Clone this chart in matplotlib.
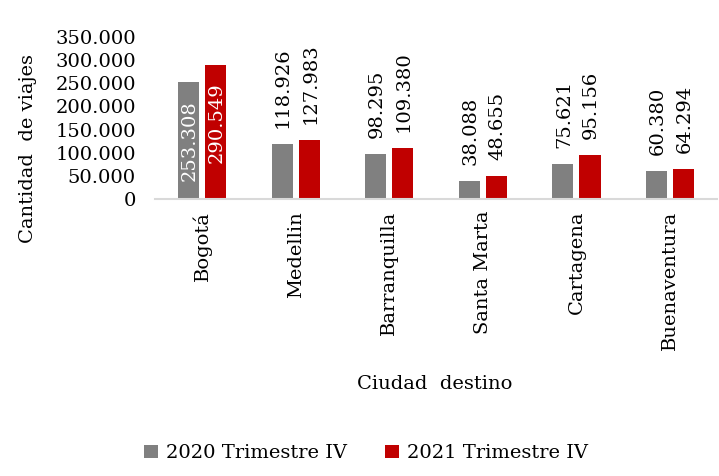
import numpy as np
import matplotlib
matplotlib.use("Agg")
import matplotlib.pyplot as plt
from matplotlib.ticker import FuncFormatter

ciudades = ["Bogotá", "Medellin", "Barranquilla", "Santa Marta", "Cartagena", "Buenaventura"]
viajes_2020 = [253308, 118926, 98295, 38088, 75621, 60380]
viajes_2021 = [290549, 127983, 109380, 48655, 95156, 64294]
serie_2020 = "2020 Trimestre IV"
serie_2021 = "2021 Trimestre IV"
dentro = ["Bogotá"]  # etiquetas dentro de la barra

GRIS = "#808080"
ROJO = "#c00000"

plt.rcParams["font.family"] = ["DejaVu Serif"]
FS = 14


def miles(v, pos=None):
    return f"{int(v):,}".replace(",", ".")


fig = plt.figure(figsize=(7.19, 4.76), dpi=100)
ax = fig.add_axes([0.216, 0.582, 0.781, 0.340])

x = np.arange(len(ciudades))
w = 0.225
b1 = ax.bar(x - 0.145, viajes_2020, w, color=GRIS, label=serie_2020)
b2 = ax.bar(x + 0.145, viajes_2021, w, color=ROJO, label=serie_2021)

for barras in (b1, b2):
    for i, r in enumerate(barras):
        h = r.get_height()
        xc = r.get_x() + r.get_width() / 2
        if ciudades[i] in dentro:
            ax.annotate(miles(h), (xc, h), xytext=(1, -18), textcoords="offset pixels",
                        rotation=90, ha="center", va="top", color="white", fontsize=FS)
        else:
            ax.annotate(miles(h), (xc, h), xytext=(1, 16), textcoords="offset pixels",
                        rotation=90, ha="center", va="bottom", color="black", fontsize=FS)

ax.set_ylim(0, 350000)
ax.set_yticks(np.arange(0, 350001, 50000))
ax.yaxis.set_major_formatter(FuncFormatter(miles))
ax.set_xlim(-0.5, len(ciudades) - 0.5)
ax.set_xticks(x)
ax.set_xticklabels(ciudades, rotation=90, fontsize=FS, va="top")
ax.tick_params(axis="x", length=0, pad=8.5)
ax.tick_params(axis="y", length=0, pad=14, labelsize=FS)
for s in ("top", "right", "left"):
    ax.spines[s].set_visible(False)
ax.spines["bottom"].set_color("#d9d9d9")
ax.spines["bottom"].set_linewidth(1.5)

fig.text(0.039, 0.689, "Cantidad  de viajes", rotation=90, ha="center", va="center", fontsize=FS)
fig.text(0.605, 0.193, "Ciudad  destino", ha="center", va="center", fontsize=FS)

fig.legend(loc="center", bbox_to_anchor=(0.509, 0.048), ncol=2, frameon=False,
           fontsize=FS, handlelength=0.7, handleheight=0.7, handletextpad=0.4,
           columnspacing=2.0)

fig.savefig("out.png", dpi=100)
